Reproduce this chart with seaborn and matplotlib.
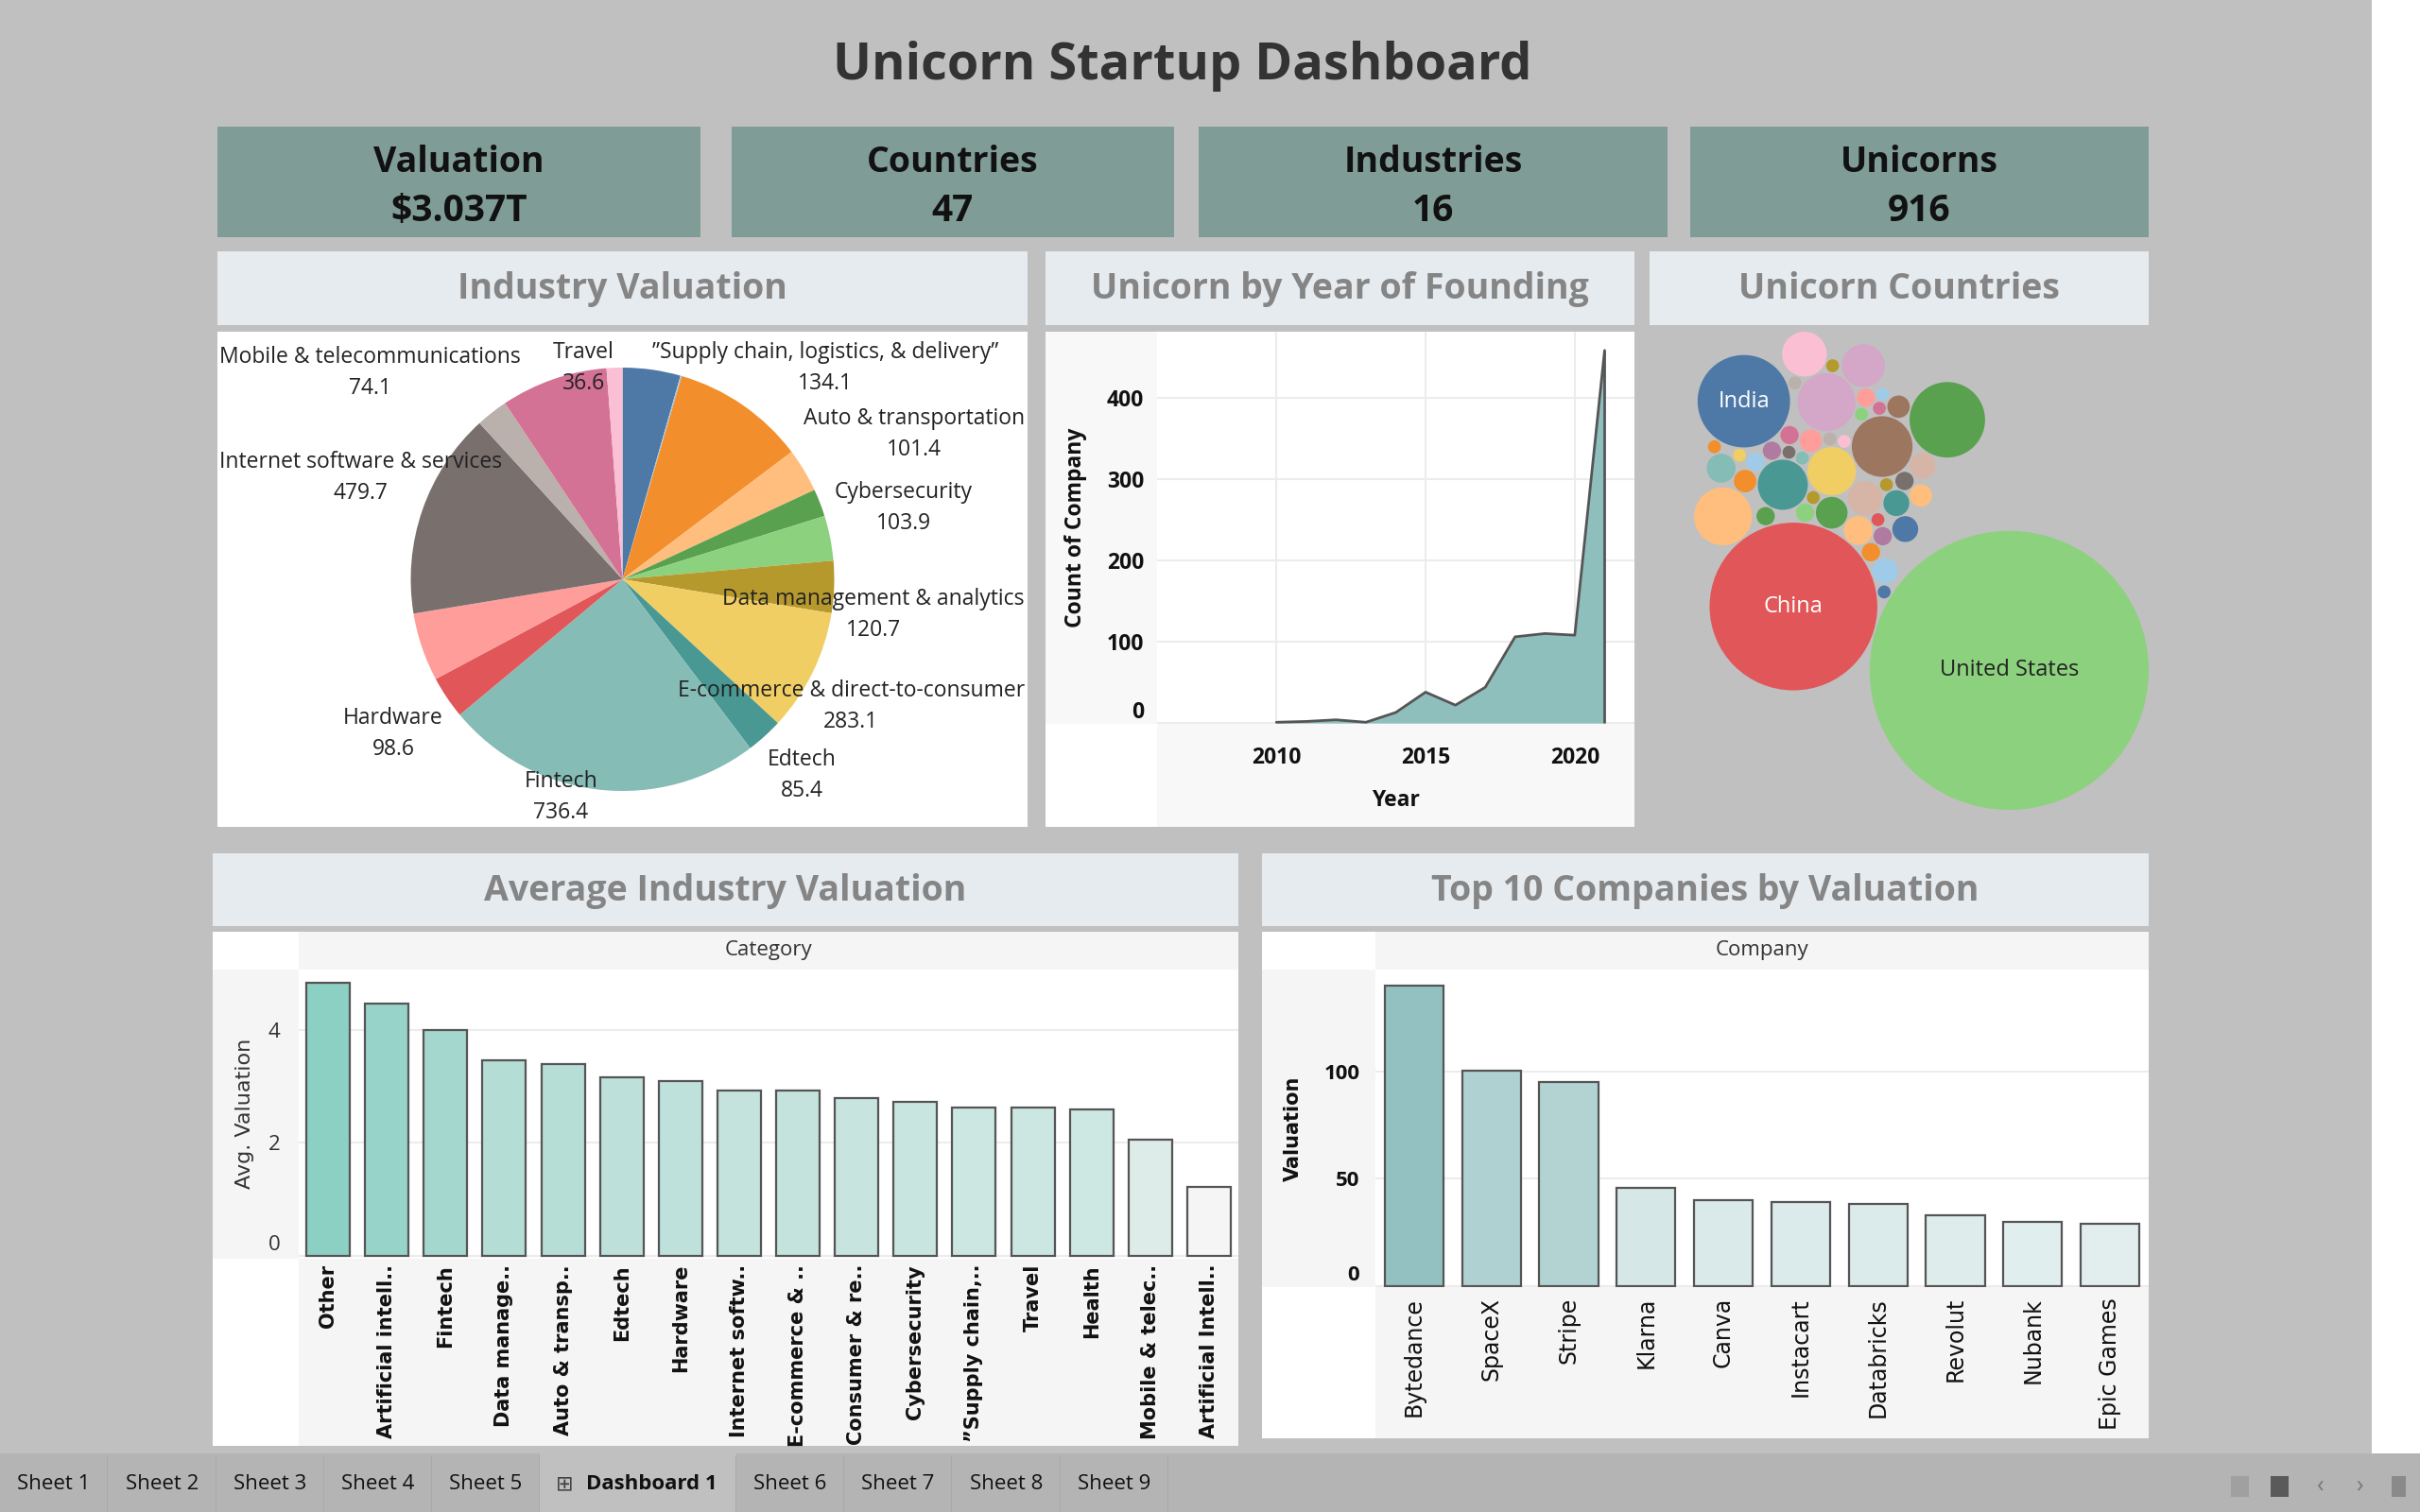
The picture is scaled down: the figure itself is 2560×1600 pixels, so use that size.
import numpy as np
import matplotlib
matplotlib.use("Agg")
import matplotlib.pyplot as plt
import seaborn as sns
from matplotlib.patches import Rectangle, Circle
from matplotlib.colors import LinearSegmentedColormap, Normalize, to_rgb
from matplotlib.transforms import ScaledTranslation

# ---------------- data ----------------
kpi_names = ["Valuation", "Countries", "Industries", "Unicorns"]
kpi_values = ["$3.037T", "47", "16", "916"]

industries = ["\u201dSupply chain, logistics, & delivery\u201d", "Artificial Intelligence",
              "Artificial intelligence", "Auto & transportation", "Consumer & retail",
              "Cybersecurity", "Data management & analytics", "E-commerce & direct-to-consumer",
              "Edtech", "Fintech", "Hardware", "Health", "Internet software & services",
              "Mobile & telecommunications", "Other", "Travel"]
industry_valuation = [134.1, 3.0, 310.0, 101.4, 64.0, 103.9, 120.7, 283.1,
                      85.4, 736.4, 98.6, 158.4, 479.7, 74.1, 247.6, 36.6]
industry_labelled = [True, False, False, True, False, True, True, True,
                     True, True, True, False, True, True, False, True]

found_years = [2010, 2011, 2012, 2013, 2014, 2015, 2016, 2017, 2018, 2019, 2020, 2021]
found_counts = [1, 2, 4, 1, 13, 38, 22, 44, 106, 110, 108, 458]

# alphabetical, as Tableau orders them (colour = position in the tableau-20 cycle)
countries = ["Argentina", "Australia", "Austria", "Bahamas", "Belarus", "Belgium", "Bermuda",
             "Brazil", "Canada", "Chile", "China", "Colombia", "Croatia", "Czech Republic",
             "Denmark", "Estonia", "Finland", "France", "Germany", "Hong Kong", "India",
             "Indonesia", "Ireland", "Israel", "Italy", "Japan", "Lithuania", "Luxembourg",
             "Malaysia", "Mexico", "Netherlands", "Nigeria", "Norway", "Philippines", "Senegal",
             "Singapore", "South Africa", "South Korea", "Spain", "Sweden", "Switzerland",
             "Thailand", "Turkey", "United Arab Emirates", "United Kingdom", "United States",
             "Vietnam"]
country_counts = [1, 4, 2, 5, 6, 2, 1, 14, 15, 1, 168, 3, 1, 1, 2, 1, 2, 20, 22, 7, 51,
                  2, 3, 20, 2, 1, 1, 1, 4, 5, 1, 2, 2, 1, 1, 12, 2, 11, 3, 4, 4,
                  1, 1, 3, 34, 465, 1]

avg_categories = ["Other", "Artificial intell..", "Fintech", "Data manage..", "Auto & transp..",
                  "Edtech", "Hardware", "Internet softw..", "E-commerce & ..", "Consumer & re..",
                  "Cybersecurity", "\u201dSupply chain,..", "Travel", "Health", "Mobile & telec..",
                  "Artificial Intell.."]
avg_valuation = [4.84, 4.47, 4.00, 3.47, 3.40, 3.16, 3.10, 2.93, 2.93, 2.79,
                 2.72, 2.62, 2.62, 2.59, 2.06, 1.22]

companies = ["Bytedance", "SpaceX", "Stripe", "Klarna", "Canva", "Instacart",
             "Databricks", "Revolut", "Nubank", "Epic Games"]
company_valuation = [140, 100.3, 95, 45.6, 40, 39, 38, 33, 30, 28.7]

tab_names = ["Sheet 1", "Sheet 2", "Sheet 3", "Sheet 4", "Sheet 5", "Dashboard 1",
             "Sheet 6", "Sheet 7", "Sheet 8", "Sheet 9"]

# ---------------- style ----------------
TAB20 = ["#4e79a7", "#a0cbe8", "#f28e2b", "#ffbe7d", "#59a14f", "#8cd17d", "#b6992d",
         "#f1ce63", "#499894", "#86bcb6", "#e15759", "#ff9d9a", "#79706e", "#bab0ac",
         "#d37295", "#fabfd2", "#b07aa1", "#d4a6c8", "#9d7660", "#d7b5a6"]
BG = "#c0c0c0"
KPI_BG = "#809c96"
HEAD_BG = "#e6ebef"
HEAD_FG = "#858585"
STRIP = "#f5f5f5"
SANS = ["Open Sans", "DejaVu Sans"]

sns.set_theme(style="white")
plt.rcParams["font.family"] = SANS

W, H = 2560, 1600


def frac(x0, y0, x1, y1):
    return [x0 / W, 1 - y1 / H, (x1 - x0) / W, (y1 - y0) / H]


def box(fig, x0, y0, x1, y1, color, z=-1):
    fig.add_artist(Rectangle((x0 / W, 1 - y1 / H), (x1 - x0) / W, (y1 - y0) / H,
                             transform=fig.transFigure, facecolor=color,
                             edgecolor="none", zorder=z))


def ftext(fig, x, y, s, **kw):
    return fig.text(x / W, 1 - y / H, s, ha=kw.pop("ha", "center"),
                    va=kw.pop("va", "center"), **kw)


def lift_zero_label(ax, px=14):
    # Tableau draws the "0" label just above the baseline
    lab = ax.yaxis.get_major_ticks()[0].label1
    lab.set_transform(lab.get_transform() + ScaledTranslation(0, px / 100, ax.figure.dpi_scale_trans))


def circle_hits(c1, r1, c2, r2):
    v = c2 - c1
    d = np.hypot(v[0], v[1])
    if d == 0 or d > r1 + r2 or d < abs(r1 - r2):
        return []
    a = (r1 ** 2 - r2 ** 2 + d ** 2) / (2 * d)
    h = np.sqrt(max(r1 ** 2 - a ** 2, 0.0))
    base = c1 + a * v / d
    perp = np.array([-v[1], v[0]]) / d
    return [base + h * perp, base - h * perp]


def pack_bubbles(radii, first_angle, anchor):
    # two largest first (tangent), then the rest in data order, each as close
    # to the anchor as it can get without overlapping
    n = len(radii)
    big = list(np.argsort(-radii, kind="stable")[:2])
    order = big + [i for i in range(n) if i not in big]
    pts = np.zeros((n, 2))
    a, b = order[0], order[1]
    pts[b] = (radii[a] + radii[b]) * np.array([np.cos(first_angle), np.sin(first_angle)])
    done = [a, b]
    for k in order[2:]:
        r = radii[k]
        P, R = pts[done], radii[done]
        best, best_d = None, np.inf
        for i in range(len(done)):
            for j in range(i + 1, len(done)):
                for p in circle_hits(P[i], R[i] + r, P[j], R[j] + r):
                    gap = np.hypot(P[:, 0] - p[0], P[:, 1] - p[1]) - R - r
                    if gap.min() > -1e-6:
                        dd = np.hypot(*(p - anchor))
                        if dd < best_d:
                            best, best_d = p, dd
        pts[k] = best
        done.append(k)
    return pts


fig = plt.figure(figsize=(25.6, 16), dpi=100, facecolor=BG)

# right strip and tab bar
box(fig, 2509, 0, 2560, 1538, "white")
box(fig, 0, 1538, 2560, 1600, "#b4b4b4")

# ---------------- title + KPI ----------------
ftext(fig, 1251, 70, "Unicorn Startup Dashboard", fontsize=39, weight="bold", color="#333333")
kpi_boxes = [(230, 741), (774, 1242), (1268, 1764), (1788, 2273)]
for (x0, x1), name, val in zip(kpi_boxes, kpi_names, kpi_values):
    box(fig, x0, 134, x1, 251, KPI_BG)
    ftext(fig, (x0 + x1) / 2, 172, name, fontsize=27, weight="bold", color="#111111")
    ftext(fig, (x0 + x1) / 2, 224, val, fontsize=28, weight="bold", color="#111111")

# ---------------- headers ----------------
headers = [((230, 1087, 266, 344), "Industry Valuation"),
           ((1106, 1729, 266, 344), "Unicorn by Year of Founding"),
           ((1745, 2273, 266, 344), "Unicorn Countries"),
           ((225, 1310, 903, 980), "Average Industry Valuation"),
           ((1335, 2273, 903, 980), "Top 10 Companies by Valuation")]
for (x0, x1, y0, y1), title in headers:
    box(fig, x0, y0, x1, y1, HEAD_BG)
    ftext(fig, (x0 + x1) / 2, (y0 + y1) / 2 + 1, title, fontsize=27, weight="bold", color=HEAD_FG)

# ---------------- pie: industry valuation ----------------
box(fig, 230, 351, 1087, 875, "white")
ax = fig.add_axes(frac(230, 351, 1087, 875))
ax.set_facecolor("white")
wedges, _ = ax.pie(industry_valuation, colors=TAB20[:len(industry_valuation)], startangle=90,
                   counterclock=False, radius=1.0, wedgeprops=dict(linewidth=0))
pie_r = 224
hw, hh = (1087 - 230) / 2 / pie_r, (875 - 351) / 2 / pie_r
ax.set_xlim(-hw, hw)
ax.set_ylim(-hh, hh)
ax.set_aspect("equal", adjustable="datalim")
ax.axis("off")

renderer = fig.canvas.get_renderer()
ax_bb = ax.get_window_extent(renderer)
for w, name, val, show in zip(wedges, industries, industry_valuation, industry_labelled):
    if not show:
        continue
    mid = np.deg2rad((w.theta1 + w.theta2) / 2)
    x, y = 1.02 * np.cos(mid), 1.08 * np.sin(mid)
    t = ax.text(x, y, f"{name}\n{val:.1f}", ha="left" if x > 0 else "right",
                va="bottom" if y > 0 else "top", multialignment="center",
                fontsize=16.5, color="#222222", linespacing=1.5)
    bb = t.get_window_extent(renderer)
    dx = dy = 0.0
    if bb.x1 > ax_bb.x1 - 3:
        dx = ax_bb.x1 - 3 - bb.x1
    if bb.x0 < ax_bb.x0 + 2:
        dx = ax_bb.x0 + 2 - bb.x0
    if bb.y1 > ax_bb.y1 - 10:
        dy = ax_bb.y1 - 10 - bb.y1
    if bb.y0 < ax_bb.y0 + 3:
        dy = ax_bb.y0 + 3 - bb.y0
    px, py = ax.transData.transform((x, y))
    t.set_position(ax.transData.inverted().transform((px + dx, py + dy)))

# ---------------- area: unicorn by year ----------------
box(fig, 1106, 351, 1729, 875, "white")
box(fig, 1106, 351, 1224, 766, "#f8f8f8")
box(fig, 1224, 766, 1729, 875, "#f8f8f8")
ax = fig.add_axes(frac(1224, 351, 1729, 766))
ax.set_facecolor("white")
ax.fill_between(found_years, found_counts, color="#8fbfbc", linewidth=0, zorder=2)
sns.lineplot(x=found_years, y=found_counts, color="#555555", linewidth=2, ax=ax, zorder=3)
ax.vlines(found_years[-1], 0, found_counts[-1], color="#555555", linewidth=2, zorder=3)
ax.set_xlim(2006, 2022)
ax.set_ylim(-1, 481)
ax.set_xticks([2010, 2015, 2020])
ax.set_yticks([0, 100, 200, 300, 400])
ax.grid(True, color="#ececec", linewidth=1.5, zorder=0)
for s in ax.spines.values():
    s.set_visible(False)
ax.tick_params(axis="both", length=0, labelsize=16.5, labelcolor="#111111")
ax.tick_params(axis="y", pad=10)
ax.tick_params(axis="x", pad=17)
for lab in ax.get_xticklabels() + ax.get_yticklabels():
    lab.set_fontweight("bold")
lift_zero_label(ax)
ax.set_xlabel("Year", fontsize=16.5, weight="bold", color="#111111")
ax.set_ylabel("Count of Company", fontsize=16.5, weight="bold", color="#111111")
ax.xaxis.set_label_coords(0.5, -0.166)
ax.yaxis.set_label_coords(-0.147, 0.5)

# ---------------- packed bubbles: countries ----------------
counts = np.array(country_counts, dtype=float)
radii = np.sqrt(counts)
gap = 0.12
R0 = radii.max()
pts = pack_bubbles(radii + gap, np.deg2rad(163.5), R0 * np.array([-1.4, 1.45]))
ax = fig.add_axes(frac(1747, 351, 2273, 857))
ax.set_facecolor("none")
axW, axH = 2273 - 1747, 857 - 351
xmin, xmax = (pts[:, 0] - radii).min(), (pts[:, 0] + radii).max()
ymin, ymax = (pts[:, 1] - radii).min(), (pts[:, 1] + radii).max()
scale = min(axW / (xmax - xmin), axH / (ymax - ymin))
ax.set_xlim(xmax - axW / scale, xmax)
ax.set_ylim(ymin, ymin + axH / scale)
ax.axis("off")
for i, ((x, y), r) in enumerate(zip(pts, radii)):
    col = TAB20[i % len(TAB20)]
    ax.add_patch(Circle((x, y), r, facecolor=col, edgecolor="none"))
    if counts[i] >= 50:
        rgb = np.array(to_rgb(col))
        lum = 0.299 * rgb[0] + 0.587 * rgb[1] + 0.114 * rgb[2]
        ax.text(x, y, countries[i], ha="center", va="center", fontsize=17,
                color="white" if lum < 0.62 else "#222222")

# ---------------- bars: average industry valuation ----------------
box(fig, 225, 986, 1310, 1530, "white")
box(fig, 316, 986, 1310, 1026, STRIP)
box(fig, 225, 1026, 316, 1332, STRIP)
box(fig, 316, 1332, 1310, 1530, STRIP)
ftext(fig, 813, 1006, "Category", fontsize=16, color="#333333")
ax = fig.add_axes(frac(316, 1026, 1310, 1331))
ax.set_facecolor("white")
cmap = LinearSegmentedColormap.from_list("avg", ["#f5f5f5", "#8ccfc3"])
norm = Normalize(min(avg_valuation), max(avg_valuation))
sns.barplot(x=avg_categories, y=avg_valuation, hue=avg_categories,
            palette=[cmap(norm(v)) for v in avg_valuation], legend=False, saturation=1,
            width=0.74, edgecolor="#555555", linewidth=1.6, ax=ax, zorder=3)
ax.set_xlim(-0.5, len(avg_categories) - 0.5)
ax.set_ylim(-0.034, 5.07)
ax.set_yticks([0, 2, 4])
ax.yaxis.grid(True, color="#ececec", linewidth=1.5, zorder=0)
ax.xaxis.grid(False)
for s in ax.spines.values():
    s.set_visible(False)
ax.tick_params(axis="y", length=0, labelsize=16, labelcolor="#333333", pad=14)
ax.tick_params(axis="x", length=0, pad=5)
lift_zero_label(ax)
ax.set_xticks(range(len(avg_categories)))
ax.set_xticklabels(avg_categories, rotation=90, va="top", ha="center", fontsize=15,
                   fontweight="bold", fontfamily="DejaVu Sans", color="#111111")
ax.set_xlabel("")
ax.set_ylabel("Avg. Valuation", fontsize=16, fontfamily="DejaVu Sans", color="#333333")
ax.yaxis.set_label_coords(-0.047, 0.5)

# ---------------- bars: top 10 companies ----------------
box(fig, 1335, 986, 2273, 1522, "white")
box(fig, 1455, 986, 2273, 1026, STRIP)
box(fig, 1335, 1026, 1455, 1362, STRIP)
box(fig, 1455, 1362, 2273, 1522, STRIP)
ftext(fig, 1864, 1006, "Company", fontsize=16, color="#333333")
ax = fig.add_axes(frac(1455, 1026, 2273, 1362))
ax.set_facecolor("white")
cmap = LinearSegmentedColormap.from_list("top", ["#e2eeee", "#93c1c1"])
norm = Normalize(min(company_valuation), max(company_valuation))
sns.barplot(x=companies, y=company_valuation, hue=companies,
            palette=[cmap(norm(v)) for v in company_valuation], legend=False, saturation=1,
            width=0.76, edgecolor="#555555", linewidth=1.6, ax=ax, zorder=3)
ax.set_xlim(-0.5, len(companies) - 0.5)
ax.set_ylim(-0.6, 147.4)
ax.set_yticks([0, 50, 100])
ax.yaxis.grid(True, color="#ececec", linewidth=1.5, zorder=0)
ax.xaxis.grid(False)
for s in ax.spines.values():
    s.set_visible(False)
ax.tick_params(axis="y", length=0, labelsize=16, labelcolor="#111111", pad=12)
for lab in ax.get_yticklabels():
    lab.set_fontweight("bold")
lift_zero_label(ax)
ax.tick_params(axis="x", length=0, pad=8)
ax.set_xticks(range(len(companies)))
ax.set_xticklabels(companies, rotation=90, va="top", ha="center", fontsize=17,
                   fontfamily="DejaVu Sans", color="#111111")
ax.set_xlabel("")
ax.set_ylabel("Valuation", fontsize=15, weight="bold", fontfamily="DejaVu Sans", color="#111111")
ax.yaxis.set_label_coords(-0.094, 0.5)

# ---------------- tab bar ----------------
tab_edges = [0, 114, 229, 343, 457, 571, 779, 893, 1007, 1122, 1236]
for i, name in enumerate(tab_names):
    x0, x1 = tab_edges[i], tab_edges[i + 1]
    if name.startswith("Dashboard"):
        box(fig, x0, 1538, x1, 1600, BG, z=-0.5)
        ftext(fig, x0 + 26, 1571, "\u229e", fontsize=16, color="#444444", fontfamily="DejaVu Sans")
        ftext(fig, (x0 + x1) / 2 + 14, 1571, name, fontsize=16, weight="bold", color="#111111")
    else:
        ftext(fig, (x0 + x1) / 2, 1571, name, fontsize=16, color="#111111")
    box(fig, x1 - 1, 1540, x1, 1600, "#a9a9a9", z=-0.4)
box(fig, 2360, 1562, 2379, 1584, "#a0a0a0", z=-0.4)
box(fig, 2402, 1562, 2421, 1584, "#5a5a5a", z=-0.4)
ftext(fig, 2455, 1572, "\u2039", fontsize=18, color="#777777")
ftext(fig, 2496, 1572, "\u203a", fontsize=18, color="#777777")
box(fig, 2530, 1562, 2545, 1584, "#8a8a8a", z=-0.4)

fig.savefig("out.png", dpi=100, facecolor=BG)
